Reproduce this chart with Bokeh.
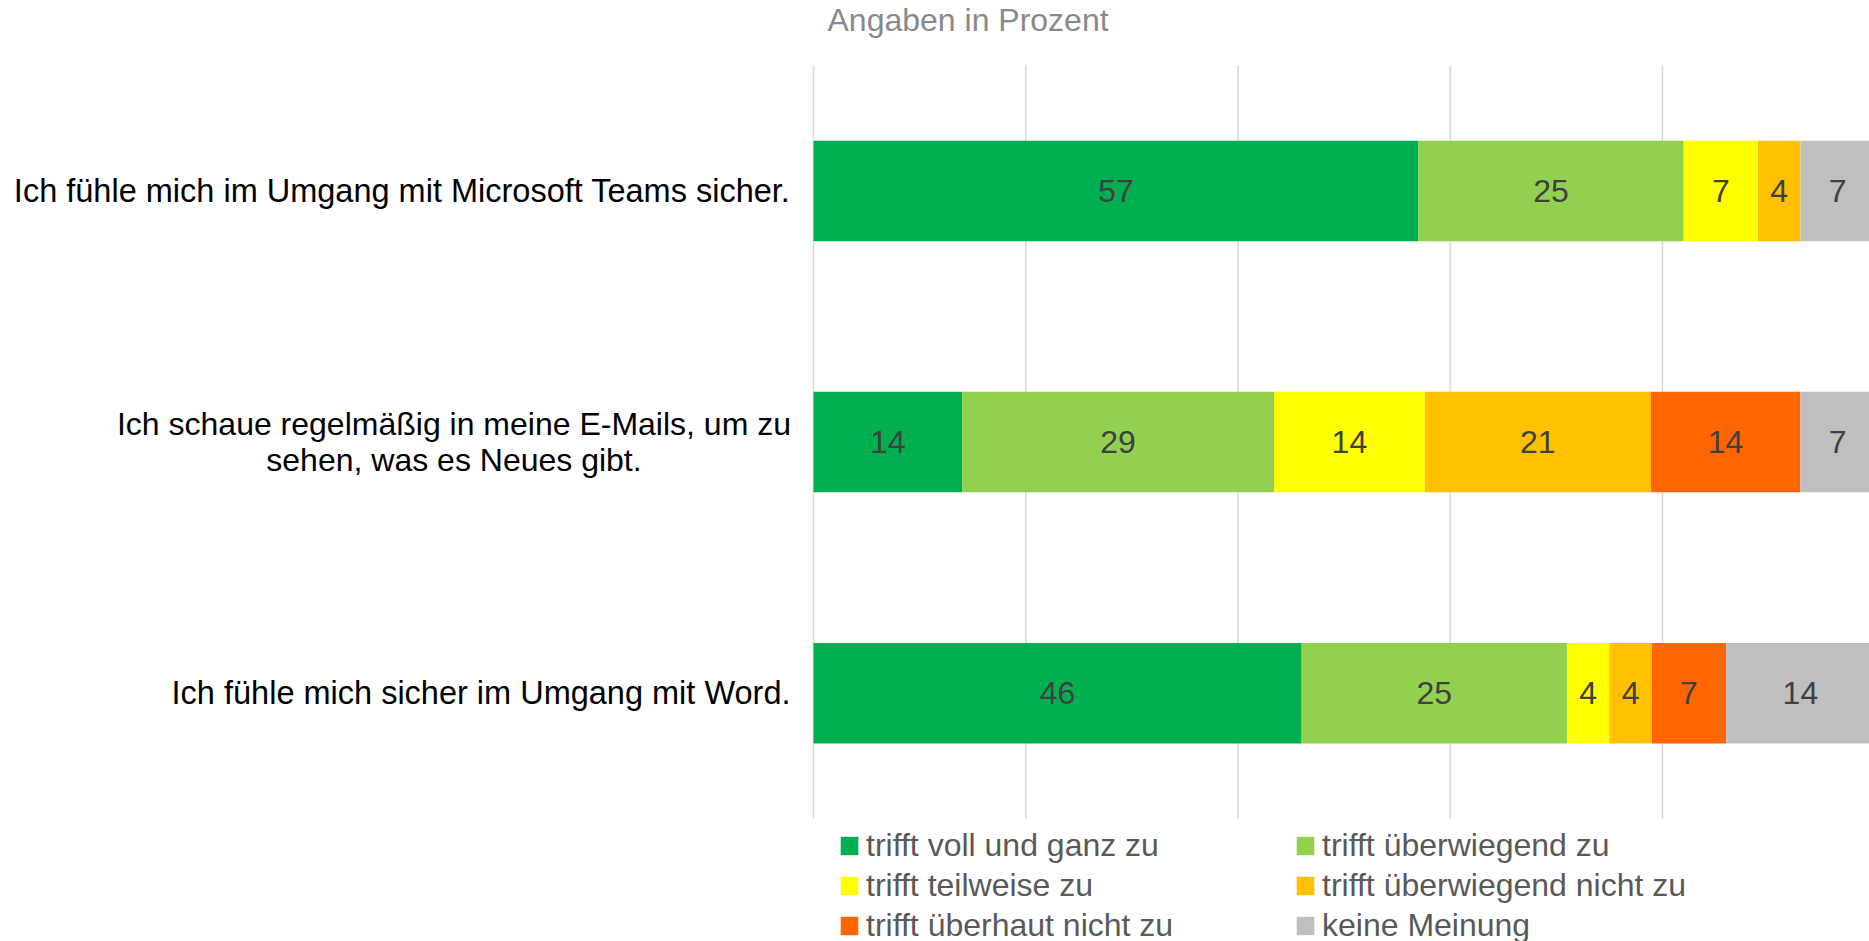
from bokeh.plotting import figure
from bokeh.models import ColumnDataSource, Range1d, Legend, LegendItem, Label
from bokeh.core.properties import value
from bokeh.embed import file_html
from bokeh.resources import INLINE

# --- data -------------------------------------------------------------
statements = [
    "Ich fühle mich im Umgang mit Microsoft Teams sicher.",
    "Ich schaue regelmäßig in meine E-Mails, um zu\nsehen, was es Neues gibt.",
    "Ich fühle mich sicher im Umgang mit Word.",
]
answer_labels = [
    "trifft voll und ganz zu",
    "trifft überwiegend zu",
    "trifft teilweise zu",
    "trifft überwiegend nicht zu",
    "trifft überhaut nicht zu",
    "keine Meinung",
]
voll_und_ganz = [57, 14.0, 46]
ueberwiegend = [25, 29.4, 25]
teilweise = [7, 14.2, 4]
ueberwiegend_nicht = [4, 21.3, 4]
ueberhaupt_nicht = [0, 14.1, 7]
keine_meinung = [7, 7.0, 14]
grid_ticks = [0, 20, 40, 60, 80, 100]
title_text = "Angaben in Prozent"

colors = ["#00B050", "#92D050", "#FFFF00", "#FFC000", "#FF6600", "#BFBFBF"]
keys = ["v1", "v2", "v3", "v4", "v5", "v6"]
series = [voll_und_ganz, ueberwiegend, teilweise, ueberwiegend_nicht, ueberhaupt_nicht, keine_meinung]

rows = list(range(len(statements)))  # row index, top to bottom
data = {"row": rows, "statement": statements}
for k, s in zip(keys, series):
    data[k] = s
source = ColumnDataSource(data)

FONT = "Liberation Sans"

p = figure(
    width=1869, height=941,
    x_range=Range1d(-76.61, 99.51),
    y_range=Range1d(2.989, -0.7587),   # flipped: first statement on top
    output_backend="svg", toolbar_location=None,
    x_axis_location=None, y_axis_location=None,
    min_border_left=0, min_border_right=0,
    min_border_top=0, min_border_bottom=0,
)
p.outline_line_color = None
p.background_fill_color = "white"
p.grid.visible = False

# vertical grid lines over the category band
n = len(statements)
p.segment(x0=grid_ticks, x1=grid_ticks, y0=[-0.5] * len(grid_ticks),
          y1=[n - 0.5] * len(grid_ticks), line_color="#D9D9D9", line_width=1.5)

renderers = p.hbar_stack(keys, y="row", height=0.4, fill_color=colors,
                         line_color=None, source=source)

# data labels
lx, ly, lt = [], [], []
for i in rows:
    cum = 0.0
    for s in series:
        v = s[i]
        if v > 0:
            lx.append(cum + v / 2.0)
            ly.append(i)
            lt.append(str(int(round(v))))
        cum += v
lab_src = ColumnDataSource(dict(x=lx, y=ly, t=lt))
p.text(x="x", y="y", text="t", source=lab_src, text_align="center",
       text_baseline="middle", text_font=value(FONT), text_font_size="32px",
       text_color="#404040")

# category labels (left of the bars)
single_y = [i for i in rows if "\n" not in statements[i]]
multi_y = [i for i in rows if "\n" in statements[i]]
p.text(x=[0] * len(single_y), y=single_y, text=[statements[i] for i in single_y],
       x_offset=-23, text_align="right", text_baseline="middle",
       text_font=value(FONT), text_font_size="32.5px", text_color="#000000")
p.text(x=[0] * len(multi_y), y=multi_y, text=[statements[i] for i in multi_y],
       x_offset=-359.5, text_align="center", text_baseline="middle",
       text_font=value(FONT), text_font_size="32px", text_color="#000000",
       text_line_height=1.02)

# title
p.add_layout(Label(x=827, y=922, x_units="screen", y_units="screen",
                   text=title_text, text_font=FONT, text_font_size="32px",
                   text_color="#898989", text_baseline="alphabetic",
                   text_align="left"))

# legend
items = [LegendItem(label=lab, renderers=[r]) for lab, r in zip(answer_labels, renderers)]
legend = Legend(
    items=items, location=(838, -3.5), orientation="horizontal", ncols=2,
    glyph_width=22, glyph_height=23, label_standoff=6, label_width=426,
    label_height=38, spacing=2, padding=0, margin=0,
    border_line_color=None, background_fill_alpha=0,
    label_text_font=FONT, label_text_font_size="32px", label_text_color="#595959",
)
p.add_layout(legend)

open("out.html", "w").write(file_html(p, INLINE))
